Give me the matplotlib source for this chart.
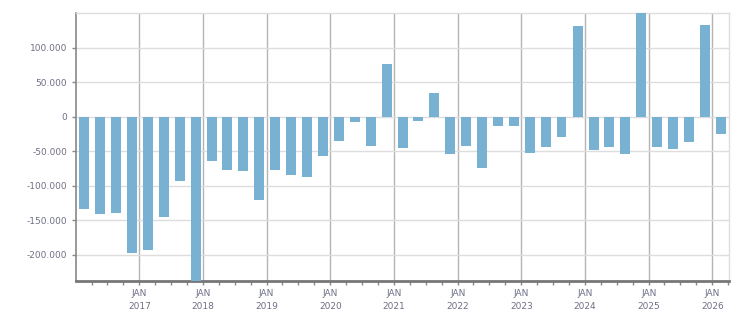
import matplotlib
matplotlib.use("Agg")
import matplotlib.pyplot as plt
import matplotlib.dates as mdates
import matplotlib.ticker as mticker
import pandas as pd
import datetime as dt

quarters = pd.period_range("2016Q1", "2026Q1", freq="Q")
values = [-134000, -141000, -139600, -197600,
          -193200, -145400, -93200, -250000,
          -64250, -77300, -78700, -120800,
          -77300, -84500, -87400, -57000,
          -35300, -7700, -42500, 76300,
          -45400, -6300, 34300, -54100,
          -42500, -74400, -13500, -13500,
          -52700, -44000, -29500, 131400,
          -48300, -44000, -54100, 155000,
          -44000, -46900, -36700, 132900,
          -25100]
years = list(range(2017, 2027))
y_ticks = [-200000, -150000, -100000, -50000, 0, 50000, 100000]

bar_color = "#79b1d3"
label_color = "#6f6f87"

dates = [p.start_time + pd.Timedelta(days=50) for p in quarters]

fig = plt.figure(figsize=(7.51, 3.13), dpi=100)
ax = fig.add_axes([76/751, (313-281)/313, (729-76)/751, (281-13)/313])

ax.bar(dates, values, width=57, color=bar_color, zorder=3)

ax.set_xlim(dt.datetime(2016, 1, 3), dt.datetime(2026, 4, 7))
ax.set_ylim(-238000, 150000)

# y axis
ax.set_yticks(y_ticks)
def fmt(v, pos):
    if v == 0:
        return "0"
    s = f"{abs(int(v)):,}".replace(",", ".")
    return ("-" if v < 0 else "") + s
ax.yaxis.set_major_formatter(mticker.FuncFormatter(fmt))
ax.yaxis.grid(True, color="#dddddd", linewidth=1, zorder=0)

# x axis
major = [dt.datetime(y, 1, 1) for y in years]
ax.set_xticks(major)
ax.set_xticklabels([f"JAN\n{y}" for y in years])
ax.xaxis.set_minor_locator(mdates.MonthLocator(bymonth=[1, 4, 7, 10]))
ax.xaxis.grid(True, which="major", color="#b4b4b4", linewidth=1, zorder=1)

ax.tick_params(axis="both", which="both", colors="#888888", labelcolor=label_color,
               labelsize=6.5, length=3, width=1)
ax.tick_params(axis="x", which="major", pad=3, length=3)
for lbl in ax.get_xticklabels():
    lbl.set_linespacing(1.5)

for side in ["top", "right"]:
    ax.spines[side].set_color("#dddddd")
    ax.spines[side].set_linewidth(1)
ax.spines["left"].set_color("#888888")
ax.spines["left"].set_linewidth(1.2)
ax.spines["bottom"].set_color("#777777")
ax.spines["bottom"].set_linewidth(2)

fig.savefig("out.png", dpi=100)
